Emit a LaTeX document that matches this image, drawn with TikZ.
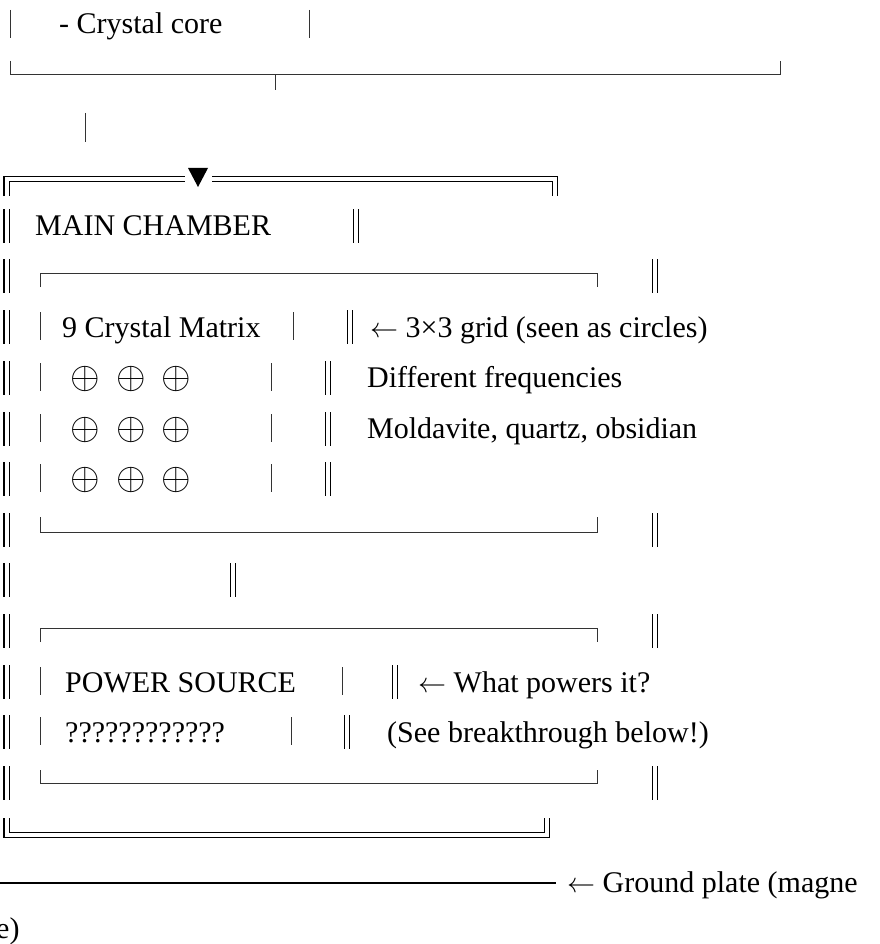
\documentclass[tikz,border=0pt]{standalone}
\usepackage{graphicx}
\usepackage{fontspec}
\setmainfont{Liberation Serif}
\usetikzlibrary{positioning}
\newcommand{\lar}{\scalebox{2.8}{\fontsize{10}{12}\selectfont$\leftarrow$}}
\newcommand{\gem}{\scalebox{3.8}{\fontsize{10}{12}\selectfont$\oplus$}}
\tikzset{
  art/wall/.style={draw=black, line width=1.4pt, double=white, double distance=4pt},
  art/line/.style={draw=black!80, line width=1pt},
  art/text/.style={anchor=base west, inner sep=0pt, font=\fontsize{30}{36}\selectfont},
  art/gem/.style={inner sep=0pt}
}

\begin{document}
\begin{tikzpicture}[x=1pt, y=-1pt]
\useasboundingbox (0,0) rectangle (879,944);

% --- crystal core box (lower part) ---
\draw[art/line] (10,10) -- (10,38);
\node[art/text] (core) at (59,34) {- Crystal core};
\draw[art/line] (309,10) -- (309,38);
\draw[art/line] (10,61) -- (10,75) -- (780,75) -- (780,61);
\draw[art/line] (275,75) -- (275,90);
\draw[art/line] (85,113) -- (85,142);

% --- outer wall, top with drop mark ---
\draw[art/wall] (6.5,196) -- (6.5,179) -- (185,179);
\draw[art/wall] (212,179) -- (555,179) -- (555,196);
\fill (188,168) -- (208,168) -- (198,187) -- cycle;

% left wall, one piece per row
\foreach \c in {227,277,328,379,430,480,531,581,632,683,733,784}
  \draw[art/wall] (6.5,\c-18) -- (6.5,\c+16);

% right wall pieces (ragged)
\foreach \x/\c in {356/227, 655/277, 350/328, 328/379, 328/430, 328/480,
                   655/531, 233/581, 655/632, 395/683, 347/733, 655/784}
  \draw[art/wall] (\x,\c-18) -- (\x,\c+16);

\node[art/text] (chamber) at (35,235) {MAIN CHAMBER};

% --- crystal matrix box ---
\draw[art/line] (40,287) -- (40,273) -- (597,273) -- (597,287);
\draw[art/line] (40,312) -- (40,340);
\draw[art/line] (293,312) -- (293,340);
\node[art/text] (matrix) at (62,337) {9 Crystal Matrix};
\node[art/text] (gridnote) at (370,337) {\lar{} 3×3 grid (seen as circles)};

\foreach \c in {379,430,480} {
  \draw[art/line] (40,\c-16) -- (40,\c+12);
  \draw[art/line] (271,\c-16) -- (271,\c+12);
}
\node[art/gem] (g11) at (85,379) {\gem};
\node[art/gem] (g12) at (131,379) {\gem};
\node[art/gem] (g13) at (176,379) {\gem};
\node[art/gem] (g21) at (85,430) {\gem};
\node[art/gem] (g22) at (131,430) {\gem};
\node[art/gem] (g23) at (176,430) {\gem};
\node[art/gem] (g31) at (85,480) {\gem};
\node[art/gem] (g32) at (131,480) {\gem};
\node[art/gem] (g33) at (176,480) {\gem};

\node[art/text] (freqnote) at (367,387) {Different frequencies};
\node[art/text] (stonenote) at (367,438) {Moldavite, quartz, obsidian};

\draw[art/line] (40,517) -- (40,532) -- (597,532) -- (597,517);

% --- power source box ---
\draw[art/line] (40,642) -- (40,628) -- (597,628) -- (597,642);
\draw[art/line] (40,667) -- (40,695);
\draw[art/line] (342,667) -- (342,695);
\node[art/text] (power) at (65,692) {POWER SOURCE};
\node[art/text] (powernote) at (418,692) {\lar{} What powers it?};
\draw[art/line] (40,717) -- (40,745);
\draw[art/line] (291,717) -- (291,745);
\node[art/text] (unknown) at (65,742) {????????????};
\node[art/text] (seenote) at (387,742) {(See breakthrough below!)};
\draw[art/line] (40,770) -- (40,783) -- (597,783) -- (597,770);

% --- outer wall, bottom ---
\draw[art/wall] (6.5,818) -- (6.5,835) -- (547,835) -- (547,818);

% --- ground plate ---
\node[art/text] (groundnote) at (567,892) {\lar{} Ground plate (magne};
\coordinate (groundend) at (556,883);
\draw[line width=2pt] (0,883) -- (groundend);
\node[art/text] (groundtail) at (-4,938) {e)};

\end{tikzpicture}
\end{document}
